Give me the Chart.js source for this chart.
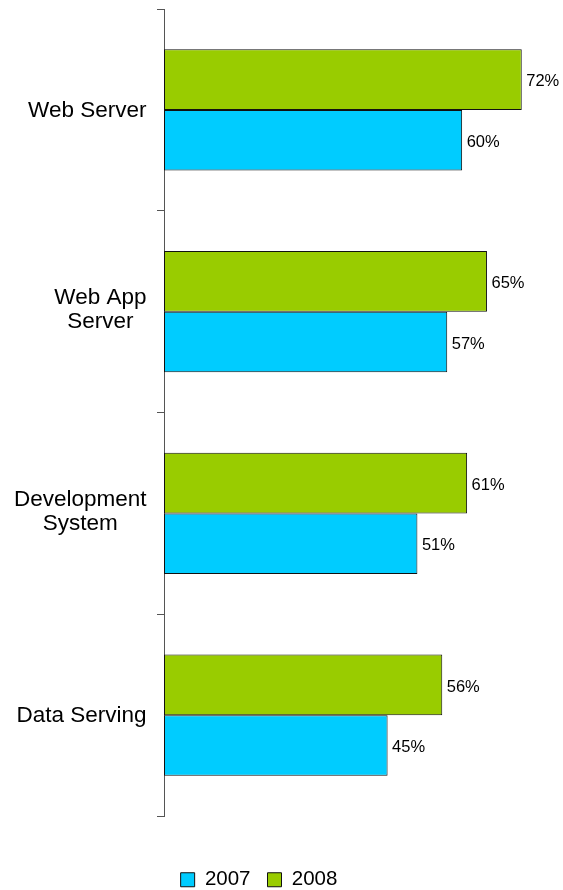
<!DOCTYPE html>
<html><head><meta charset="utf-8">
<script src="https://cdn.jsdelivr.net/npm/chart.js@4/dist/chart.umd.min.js"></script>
<style>html,body{margin:0;padding:0;background:#fff}#wrap{width:563px;height:890px;position:relative}</style>
</head><body><div id="wrap"><canvas id="c"></canvas></div>
<script>
// ---- data ----
const categories = [["Web Server"], ["Web App", "Server"], ["Development", "System"], ["Data Serving"]];
const seriesNames = ["2007", "2008"];
const values2007 = [60, 57, 51, 45];
const values2008 = [72, 65, 61, 56];
const axisMax = 80;
const valueSuffix = "%";

const FONT = "'Liberation Sans', Arial, sans-serif";

const categoryLabelPlugin = {
  id: 'categoryLabels',
  afterDraw(chart) {
    const ctx = chart.ctx;
    const y = chart.scales.y;
    ctx.save();
    ctx.font = "22.5px " + FONT;
    ctx.fillStyle = '#000';
    ctx.textBaseline = 'alphabetic';
    ctx.textAlign = 'center';
    const rightEdge = 146.5;
    categories.forEach((lines, i) => {
      const cy = y.getPixelForValue(i);
      const maxW = Math.max(...lines.map(l => ctx.measureText(l).width));
      const cx = rightEdge - maxW / 2;
      const base = cy + 7 - (lines.length - 1) * 14.5;
      lines.forEach((l, k) => ctx.fillText(l, cx, base + k * 24));
    });
    ctx.restore();
  }
};

const valueLabelPlugin = {
  id: 'valueLabels',
  afterDatasetsDraw(chart) {
    const ctx = chart.ctx;
    ctx.save();
    ctx.font = "16.5px " + FONT;
    ctx.fillStyle = '#000';
    ctx.textAlign = 'left';
    ctx.textBaseline = 'alphabetic';
    chart.data.datasets.forEach((ds, di) => {
      const meta = chart.getDatasetMeta(di);
      meta.data.forEach((el, i) => {
        ctx.fillText(ds.data[i] + valueSuffix, el.x + 4.5, el.y + 6.8);
      });
    });
    ctx.restore();
  }
};

const legendPlace = {
  id: 'legendPlace',
  afterLayout(chart) {
    const lg = chart.legend;
    if (!lg) return;
    const w = lg.right - lg.left;
    const c = 259;
    lg.left = c - w / 2; lg.right = c + w / 2;
    const dy = 10;
    lg.top += dy; lg.bottom += dy;
  }
};

new Chart(document.getElementById('c'), {
  type: 'bar',
  data: {
    labels: categories,
    datasets: [
      { label: seriesNames[1], data: values2008, backgroundColor: '#99CC00', borderColor: '#111', borderWidth: 1, borderSkipped: false },
      { label: seriesNames[0], data: values2007, backgroundColor: '#00CCFF', borderColor: '#111', borderWidth: 1, borderSkipped: false }
    ]
  },
  options: {
    indexAxis: 'y',
    responsive: true,
    maintainAspectRatio: false,
    animation: false,
    layout: { padding: { top: 9, right: 1.5, left: 0, bottom: 0 } },
    datasets: { bar: { categoryPercentage: 0.6, barPercentage: 1.0 } },
    scales: {
      x: {
        min: 0, max: axisMax,
        display: true,
        grid: { display: false },
        border: { display: false },
        ticks: { display: false },
        afterFit(s) { s.height = 26.5; }
      },
      y: {
        position: 'left',
        ticks: { display: false },
        grid: { display: true, drawOnChartArea: false, drawTicks: true, tickLength: 7, color: '#555', offset: true, lineWidth: 1 },
        border: { display: true, color: '#555', width: 1 },
        afterFit(s) { s.width = 164; }
      }
    },
    plugins: {
      tooltip: { enabled: false },
      legend: {
        position: 'bottom',
        labels: {
          font: { family: FONT, size: 20.5 },
          color: '#000',
          boxWidth: 14, boxHeight: 14,
          padding: 17,
          sort: (a, b) => b.datasetIndex - a.datasetIndex
        }
      }
    }
  },
  plugins: [categoryLabelPlugin, valueLabelPlugin, legendPlace]
});
</script>
</body></html>
